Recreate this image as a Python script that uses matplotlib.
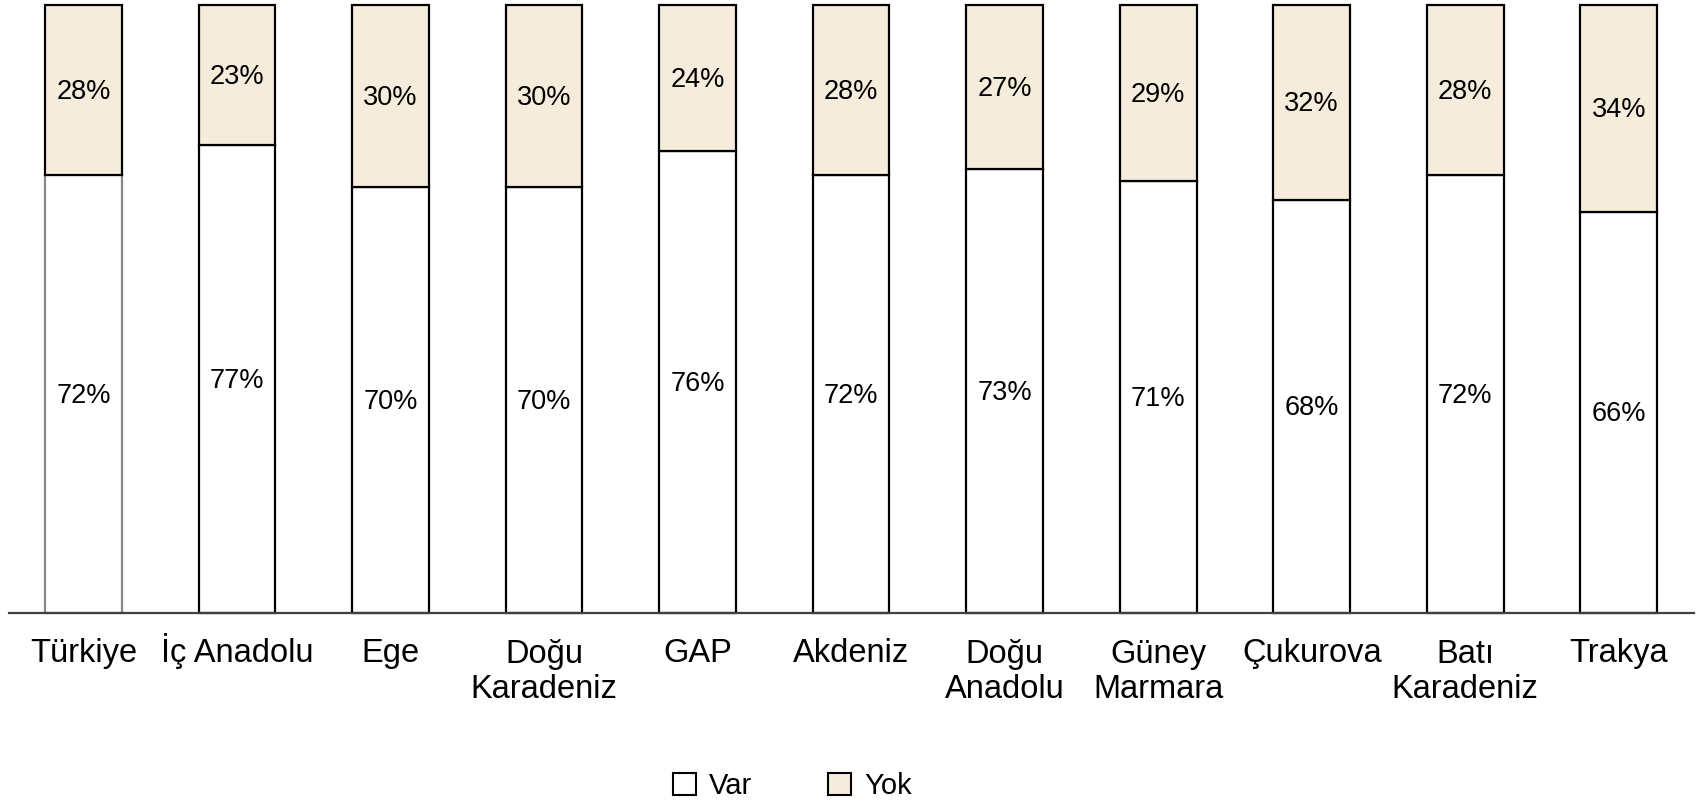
import matplotlib.pyplot as plt
import matplotlib.transforms as mtransforms
import numpy as np

plt.rcParams['font.family'] = ['Liberation Sans', 'DejaVu Sans']

regions = ["Türkiye", "İç Anadolu", "Ege", "Doğu\nKaradeniz", "GAP", "Akdeniz",
           "Doğu\nAnadolu", "Güney\nMarmara", "Çukurova", "Batı\nKaradeniz", "Trakya"]
var_pct = [72, 77, 70, 70, 76, 72, 73, 71, 68, 72, 66]
yok_pct = [28, 23, 30, 30, 24, 28, 27, 29, 32, 28, 34]

beige = '#F6ECDC'

fig = plt.figure(figsize=(17.02, 8.02), dpi=100)
ax = fig.add_axes([9/1702, 1 - 613/802, (1694 - 9)/1702, (613 - 5)/802])

x = np.arange(len(regions))
# first bar (Türkiye) has a grey outline on its lower segment
var_edges = ['#888888'] + ['black'] * (len(regions) - 1)

ax.bar(x, var_pct, width=0.5, color='white', edgecolor=var_edges,
       linewidth=1.6, clip_on=False, zorder=2)
ax.bar(x, yok_pct, bottom=var_pct, width=0.5, color=beige,
       edgecolor='black', linewidth=1.6, clip_on=False, zorder=3)

# value labels, nudged a couple of pixels down
lbl_tr = mtransforms.offset_copy(ax.transData, fig=fig, y=-2, units='dots')
for i in range(len(regions)):
    ax.text(x[i], var_pct[i] / 2, f"{var_pct[i]}%", ha='center', va='center',
            fontsize=19.5, color='black', zorder=4, transform=lbl_tr)
    ax.text(x[i], var_pct[i] + yok_pct[i] / 2, f"{yok_pct[i]}%", ha='center',
            va='center', fontsize=19.5, color='black', zorder=4, transform=lbl_tr)

ax.set_xlim(-0.485, len(regions) - 1 + 0.49)
ax.set_ylim(0, 100)
ax.set_xticks(x)
ax.set_xticklabels([])
ax.tick_params(axis='x', length=0)
ax.set_yticks([])

# category labels: first line baseline ~49px below the axis, 36px per extra line
for i, name in enumerate(regions):
    nlines = name.count('\n') + 1
    tr = mtransforms.offset_copy(ax.get_xaxis_transform(), fig=fig,
                                 y=-(49 + 36 * (nlines - 1)), units='dots')
    ax.text(x[i], 0, name, transform=tr, ha='center', va='baseline',
            fontsize=23.5, linespacing=1.17, multialignment='center')

for s in ['top', 'left', 'right']:
    ax.spines[s].set_visible(False)
ax.spines['bottom'].set_color('#404040')
ax.spines['bottom'].set_linewidth(1.6)
ax.spines['bottom'].set_zorder(5)

handles = [plt.Rectangle((0, 0), 1, 1, facecolor='white', edgecolor='black', linewidth=1.5),
           plt.Rectangle((0, 0), 1, 1, facecolor=beige, edgecolor='black', linewidth=1.5)]
fig.legend(handles, ['Var', 'Yok'], loc='center', bbox_to_anchor=(0.4655, 1 - 786/802),
           ncol=2, frameon=False, fontsize=21, handlelength=0.78, handleheight=0.78,
           handletextpad=0.45, columnspacing=2.6, borderpad=0)

plt.savefig('out.png', dpi=100)
